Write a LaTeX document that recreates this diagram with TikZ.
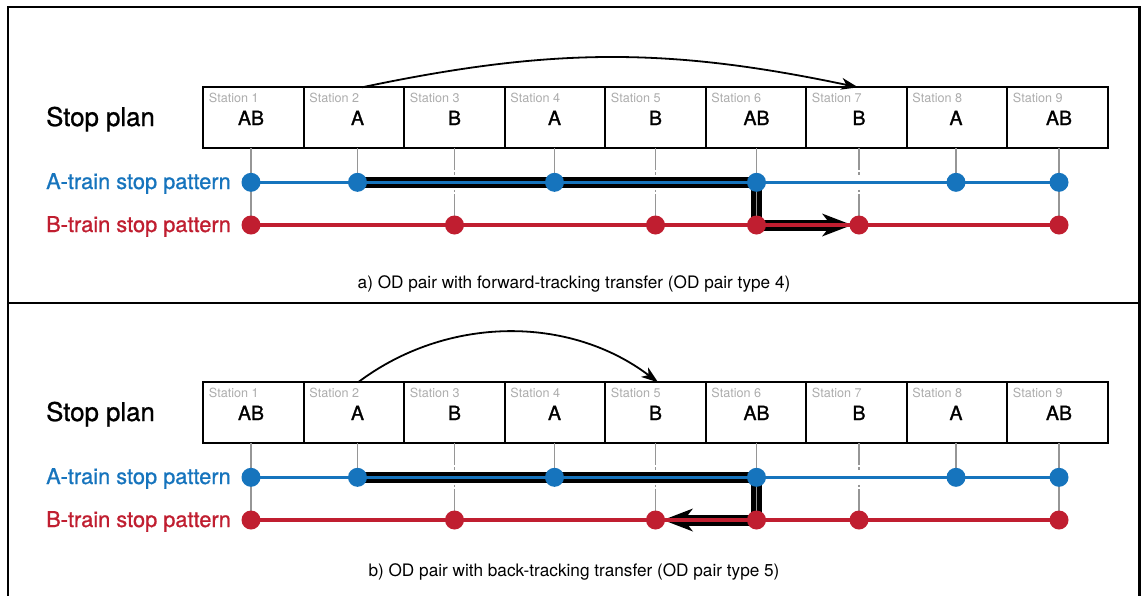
\documentclass[tikz,border=0pt]{standalone}
\usepackage{fontspec}
\setmainfont{TeX Gyre Heros}
\newfontfamily\medfont[FakeBold=0.9]{TeX Gyre Heros}
\newfontfamily\letterfont[FakeBold=1.3]{TeX Gyre Heros}
\usetikzlibrary{arrows.meta}

\definecolor{trainA}{RGB}{22,116,189}
\definecolor{trainB}{RGB}{192,30,48}
\definecolor{conn}{RGB}{150,150,150}
\definecolor{stlabel}{RGB}{172,172,172}

\newcommand{\fsz}[1]{\fontsize{#1}{#1}\selectfont}

\tikzset{
  stationbox/.style={draw=black, line width=1.8pt, minimum width=100.5pt,
    minimum height=61pt, inner sep=0pt, outer sep=0pt},
  stname/.style={anchor=base west, inner sep=0pt, text=stlabel, font=\fsz{12.6}},
  stletter/.style={anchor=base, inner sep=0pt, font=\letterfont\fsz{19.5}},
  rowlabel/.style={anchor=base west, inner sep=0pt, font=\medfont\fsz{21.8}},
  titlelabel/.style={anchor=base west, inner sep=0pt, font=\medfont\fsz{25.8}},
  dotA/.style={circle, fill=trainA, minimum size=19pt, inner sep=0pt},
  dotB/.style={circle, fill=trainB, minimum size=19pt, inner sep=0pt},
  connector/.style={draw=conn, line width=1.3pt},
  lineA/.style={draw=trainA, line width=3.5pt},
  lineB/.style={draw=trainB, line width=3.5pt},
  route/.style={draw=black, line width=11pt, line join=miter,
    -{Stealth[length=30pt,width=23pt,inset=9pt,line width=0pt]}},
  hop/.style={draw=black, line width=1.8pt,
    -{Stealth[length=17pt,width=12pt,inset=5pt,line width=0pt]}},
  caption/.style={anchor=base, inner sep=0pt, font=\fsz{17.2}},
  frame/.style={draw=black, line width=2.4pt},
}

% station boxes, their labels and the row titles of one panel
\newcommand{\planboxes}[1]{%
  \node[titlelabel] (#1-title) at (46,126) {Stop plan};
  \node[rowlabel, text=trainA] (#1-rowA) at (46,189) {A-train stop pattern};
  \node[rowlabel, text=trainB] (#1-rowB) at (46,232) {B-train stop pattern};
  \foreach \i/\sx/\stops in {1/251/AB, 2/357.5/A, 3/454.5/B, 4/554.5/A, 5/655.5/B,
                              6/756.5/AB, 7/859/B, 8/956/A, 9/1059/AB} {
    \node[stationbox] (#1-box\i) at ({253.55+100.5*(\i-1)}, 117.8) {};
    \node[stname] (#1-name\i) at ([xshift=5.4pt, yshift=-15pt]#1-box\i.north west) {Station \i};
    \node[stletter] (#1-let\i) at (\sx, 125) {\stops};
    \coordinate (#1-A\i) at (\sx, 182.3);
    \coordinate (#1-B\i) at (\sx, 225);
  }
}

% drop lines, the two stop-pattern lines and their stops
\newcommand{\planpatterns}[1]{%
  \foreach \i in {2,4,8}
    \draw[connector] (#1-box\i.south -| #1-A\i) -- (#1-A\i);
  \foreach \i in {1,6,9}
    \draw[connector] (#1-box\i.south -| #1-A\i) -- (#1-B\i);
  \foreach \i in {3,5,7} {
    \draw[connector] (#1-box\i.south -| #1-A\i) -- ([yshift=12pt]#1-A\i);
    \draw[connector] ([yshift=10pt]#1-A\i) -- ([yshift=7.5pt]#1-A\i);
    \draw[connector] ([yshift=-7.5pt]#1-A\i) -- ([yshift=-10pt]#1-A\i);
    \draw[connector] ([yshift=-12pt]#1-A\i) -- (#1-B\i);
  }
  \draw[lineA] (#1-A1) -- (#1-A9);
  \draw[lineB] (#1-B1) -- (#1-B9);
  \foreach \i in {1,2,4,6,8,9}
    \node[dotA] (#1-dotA\i) at (#1-A\i) {};
  \foreach \i in {1,3,5,6,7,9}
    \node[dotB] (#1-dotB\i) at (#1-B\i) {};
}

\begin{document}
\begin{tikzpicture}[x=1pt, y=-1pt]
  \useasboundingbox (0,0) rectangle (1141,595);
  \clip (0,0) rectangle (1141,595);

  % outer frame and panel divider
  \draw[frame] (8,7) rectangle (1139.5,640);
  \draw[frame] (8,303) -- (1139.5,303);

  % panel a: forward-tracking transfer
  \begin{scope}
    \planboxes{a}
    \draw[hop] ([xshift=8pt]a-box2.north) .. controls +(190,-40) and +(-190,-40)
      .. ([xshift=1.5pt]a-box7.north);
    \coordinate (a-tip) at (852,225);
    \draw[route] (a-A2) -- (a-A6) -- (a-B6) -- (a-tip);
    \planpatterns{a}
    \node[caption] (a-cap) at (574,288)
      {a) OD pair with forward-tracking transfer (OD pair type 4)};
  \end{scope}

  % panel b: back-tracking transfer
  \begin{scope}[yshift=-295pt]
    \planboxes{b}
    \draw[hop] ([xshift=4pt]b-box2.north) .. controls +(89,-67) and +(-89,-67)
      .. ([xshift=2.5pt]b-box5.north);
    \coordinate (b-tip) at (663,225);
    \draw[route] (b-A2) -- (b-A6) -- (b-B6) -- (b-tip);
    \planpatterns{b}
    \node[caption] (b-cap) at (574,281.5)
      {b) OD pair with back-tracking transfer (OD pair type 5)};
  \end{scope}
\end{tikzpicture}
\end{document}
